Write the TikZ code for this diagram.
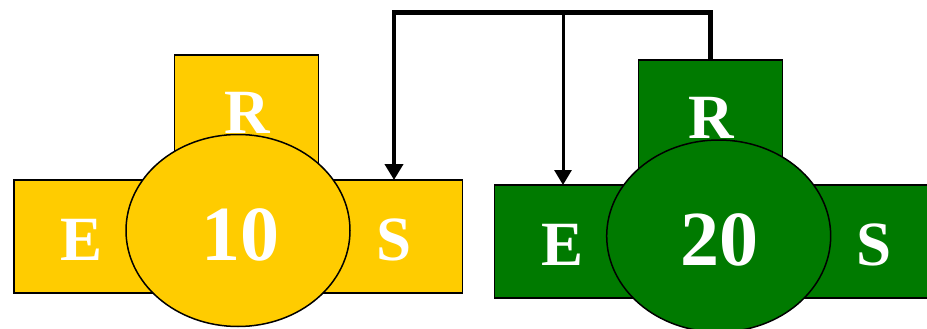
\documentclass[tikz,border=0pt]{standalone}
\usepackage{fontspec}
\setmainfont{Liberation Serif}
\usetikzlibrary{arrows.meta,shapes.geometric}
\definecolor{ygold}{RGB}{255,204,0}
\definecolor{ggreen}{RGB}{0,122,0}
\tikzset{
  part/.style={draw=black, line width=1.5pt, inner sep=0pt, outer sep=0pt},
  boxpart/.style={part, rectangle},
  ovalpart/.style={part, ellipse},
  lbl/.style={text=white, font=\bfseries\fontsize{63}{63}\selectfont, inner sep=0pt, anchor=base},
  numlbl/.style={text=white, font=\bfseries\fontsize{78}{78}\selectfont, inner sep=0pt, anchor=base},
  conn/.style={line width=4.5pt, miter limit=10, -{Triangle[length=16pt,width=18pt]}},
  branch/.style={line width=3pt, -{Triangle[length=15pt,width=17pt]}}
}
\begin{document}
\begin{tikzpicture}[x=1pt,y=-1pt]
\useasboundingbox (0,0) rectangle (927,329);
\clip (0,0) rectangle (927,329);
% yellow block
\node[boxpart, fill=ygold, minimum width=144, minimum height=125] (yR) at (246.5,117.5) {};
\node[boxpart, fill=ygold, minimum width=448.5, minimum height=113] (yBar) at (238.25,236.5) {};
\node[ovalpart, fill=ygold, minimum width=224, minimum height=192] (yO) at (238,230.5) {};
\node[lbl] (yRt) at (247.5,133) {R};
\node[lbl] (yEt) at (81.7,260) {E};
\node[lbl] (ySt) at (394,260) {S};
\node[numlbl] (yNt) at (240,260) {10};
% green block
\node[boxpart, fill=ggreen, minimum width=144, minimum height=125] (gR) at (710.5,122.5) {};
\node[boxpart, fill=ggreen, minimum width=433, minimum height=113] (gBar) at (711,241.5) {};
\node[ovalpart, fill=ggreen, minimum width=224, minimum height=192] (gO) at (718.7,236) {};
\node[lbl] (gRt) at (710.8,138) {R};
\node[lbl] (gEt) at (562.5,265) {E};
\node[lbl] (gSt) at (874,265) {S};
\node[numlbl] (gNt) at (719,265) {20};
% connectors
\coordinate (tl) at (394,12.5);
\coordinate (br) at (563,12.5);
\draw[conn] (gR.north) |- (tl) -- (tl |- yBar.north);
\draw[branch] (br) -- (br |- gBar.north);
\end{tikzpicture}
\end{document}
